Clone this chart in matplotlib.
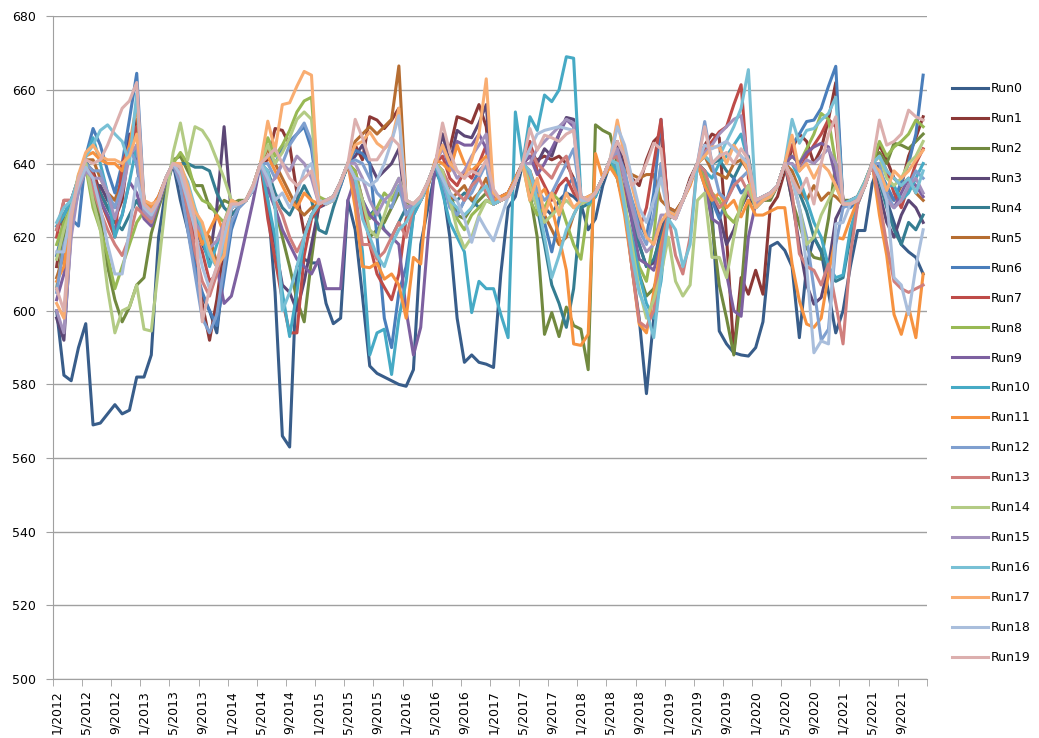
import pandas as pd
import matplotlib
matplotlib.use('Agg')
import matplotlib.pyplot as plt

# monthly categories 1/2012 .. 12/2021
months = pd.date_range('2012-01-01', periods=120, freq='MS')
month_labels = [f'{d.month}/{d.year}' for d in months]

run0 = [600, 582.5, 581, 590, 596.5, 569, 569.5, 572, 574.5, 572, 573, 582,
        582, 588, 620, 633, 640, 630, 622, 612, 604, 600, 594, 612,
        628, 629, 630, 633, 640, 630, 605, 566, 563, 612, 614, 613,
        613, 602, 596.5, 598, 630, 622, 604, 585, 583, 582, 581, 580,
        579.5, 584, 618, 628, 638, 634, 620, 598, 586, 588, 586, 585.5,
        584.6, 610, 628, 631, 640, 635, 630, 628, 626, 630, 632, 631,
        629, 622, 625, 634, 640, 636, 628, 612, 598, 577.5, 598, 618,
        627, 626, 630, 635, 640, 638, 627, 594.5, 591, 588.6, 588, 587.7,
        590, 597, 617.5, 618.6, 616.4, 612, 592.7, 612, 620, 616, 605, 594,
        600, 612, 621.8, 621.8, 634.5, 640, 630, 624, 618, 616, 614.5, 610]
run1 = [612, 626, 630, 635, 640, 638, 632, 628, 625, 630, 645, 652,
        630, 628, 631, 636, 640, 636, 630, 615, 602, 592, 603, 618,
        628, 629, 630, 634, 640, 641, 649.5, 649, 645, 632, 621, 626,
        629, 630, 630, 635, 640, 645, 641, 652.7, 651.8, 649.5, 651.8, 655,
        628, 629, 630, 635, 640, 648, 644, 652.7, 652, 651, 656, 650,
        629, 630, 631, 636, 640, 642, 641, 642, 641, 642, 640, 636,
        630, 630, 632, 636, 640, 645, 640, 636, 634, 641, 646, 648,
        628, 627, 630, 636, 640, 645, 648, 647, 620, 588.8, 609, 604.5,
        611, 604.5, 628, 631, 638, 644, 648, 646, 640, 644, 652, 662,
        629, 629, 630, 634, 640, 645, 641, 636, 634, 642, 647, 652.7]
run2 = [606, 620, 629, 636, 639, 632, 625, 612, 603, 597, 601, 607,
        609, 621, 628, 634, 641, 642, 638, 634, 634, 628, 627, 630,
        629, 630, 630, 634, 640, 636, 628, 620, 612, 603, 597, 614,
        629, 629, 630, 635, 639, 636, 628, 620, 622, 624, 628, 632,
        630, 628, 630, 634, 640, 638, 632, 626, 625, 628, 630, 632,
        629, 630, 631, 635, 640, 632, 620, 593.6, 599.5, 593, 601, 596,
        595, 584, 650.5, 649, 648, 640, 628, 618, 610, 604, 606, 612,
        625, 626, 630, 635, 640, 638, 623.6, 607, 598, 588, 605, 630,
        629, 630, 630, 634, 640, 630, 623.6, 617, 614.5, 614, 625, 640,
        630, 630, 631, 635, 640, 643, 640, 645.5, 645, 644, 646, 648]
run3 = [598, 592, 622, 634, 639, 634, 634, 630, 628, 635, 648, 640,
        626, 624, 629, 635, 640, 637, 630, 622, 618, 614, 628, 650,
        626, 628, 630, 633, 640, 628, 618, 607, 605, 600, 608, 618,
        628, 629, 631, 635, 640, 642, 645, 640, 636, 638, 640, 644,
        626, 628, 630, 635, 640, 648, 640, 649, 647.5, 647, 651, 656,
        630, 631, 632, 636, 640, 645, 640, 644, 642, 648, 652.5, 652,
        630, 629, 632, 636, 641, 646, 638, 626, 618, 612, 613, 622,
        627, 626, 630, 635, 640, 638, 631, 626, 618, 622, 628, 632,
        628, 630, 631, 634, 640, 630, 618, 607, 601.8, 603.6, 612, 625,
        629, 630, 631, 635, 640, 632, 624, 620, 626, 630, 628, 624]
run4 = [622, 626, 630, 636, 641, 636, 632, 628, 624, 622, 626, 630,
        626, 625, 629, 635, 640, 640, 640, 639, 639, 638, 632, 628,
        626, 628, 630, 633, 640, 638, 632, 628, 626, 630, 634, 630,
        622, 621, 628, 634, 640, 636, 630, 626, 628, 622, 620, 624,
        628, 629, 630, 635, 640, 636, 631, 630, 632, 630, 628, 630,
        629, 630, 631, 635, 640, 634, 628, 618, 607, 602, 595.5, 606,
        628, 629, 631, 636, 641, 640, 632, 625, 618, 612, 614, 620,
        627, 626, 630, 635, 640, 642, 640, 641, 638, 636, 640, 642,
        630, 631, 632, 634, 640, 636, 632, 627, 620, 616.4, 610, 608,
        609, 620, 629, 634, 640, 635, 628, 622, 618, 624, 622, 626]
run5 = [609, 615, 627, 634, 641, 641, 636, 632, 630, 636, 644, 650,
        629, 627, 630, 636, 640, 638, 632, 625, 622, 620, 613, 620,
        628, 629, 630, 633, 640, 644, 640, 636, 632, 628, 626, 628,
        629, 630, 631, 635, 640, 646, 648, 650, 648, 650, 652, 666.5,
        630, 629, 631, 635, 640, 636, 630, 632, 634, 630, 632, 636,
        630, 631, 632, 636, 640, 638, 632, 626, 622, 618, 620, 626,
        630, 631, 632, 636, 641, 640, 638, 637, 636, 637, 637, 630,
        628, 627, 630, 635, 640, 642, 638, 637, 636, 640, 641, 638,
        628, 630, 631, 634, 640, 638, 633, 630, 634, 630, 632, 631,
        629, 629, 630, 634, 640, 636, 632, 630, 634, 636, 632, 630]
run6 = [615, 623, 625, 623, 642, 649.5, 645, 638, 632, 640, 652, 664.5,
        630, 626, 630, 636, 640, 635, 625, 612, 605, 600, 596, 609,
        622, 628, 630, 633, 640, 642, 640, 644, 646, 648, 650, 644,
        630, 629, 630, 634, 640, 643.6, 642.7, 640, 620, 598, 590, 605,
        612, 626, 630, 634, 640, 638, 630, 626, 630, 634, 638, 640,
        629, 630, 631, 635, 640, 636, 632, 624, 616, 625, 634, 636,
        630, 630, 632, 636, 641, 642, 636, 630, 624, 620, 632, 652,
        626, 625, 630, 635, 640, 636, 630, 625, 630, 636, 632, 634,
        628, 630, 631, 634, 640, 645, 648, 651.4, 651.8, 655, 661, 666.4,
        629, 628, 630, 634, 640, 638, 634, 630, 635, 640, 648, 664]
run7 = [620, 630, 630, 636, 640, 637, 630, 625, 620, 640, 645, 650,
        628, 625, 630, 636, 640, 636, 628, 620, 616, 608, 610, 620,
        630, 629, 630, 634, 640, 625, 614, 603, 594, 594, 615, 625,
        628, 630, 630, 635, 640, 638, 630, 618, 610, 606.4, 603, 610,
        625, 629, 630, 635, 640, 642, 636, 634, 638, 636, 640, 645,
        629, 630, 631, 635, 640, 646, 638, 634, 630, 634, 636, 632,
        630, 630, 632, 636, 641, 638, 632, 628, 622, 628, 640, 652,
        627, 626, 630, 635, 640, 644, 646, 648.6, 650, 656, 661.4, 636,
        630, 631, 632, 634, 640, 645, 638, 642, 645, 648, 652, 650,
        630, 629, 630, 634, 640, 642, 638, 632, 628, 634, 640, 644]
run8 = [618, 624, 628, 636, 639, 628, 622, 615, 606, 612, 618, 624,
        627, 624, 629, 635, 640, 643, 640, 633, 630, 629, 626, 624,
        630, 629, 630, 634, 640, 647, 642, 645, 649, 654, 657, 658,
        631, 630, 631, 635, 640, 638, 630, 625, 628, 632, 630, 634,
        628, 629, 630, 635, 640, 636, 630, 625, 622, 626, 628, 630,
        629, 630, 631, 635, 640, 630, 626, 628, 632, 630, 624, 618,
        614, 628, 632, 636, 641, 636, 628, 620, 612, 608, 620, 640,
        627, 626, 630, 635, 640, 636, 632, 630, 626, 624, 628, 634,
        628, 630, 631, 634, 640, 642, 640, 644, 648, 653.6, 652, 640,
        630, 629, 631, 635, 640, 646, 642, 644.5, 646, 648, 651.8, 650]
run9 = [603, 610, 624, 633, 638, 635, 630, 626, 622, 626, 635, 632,
        625, 623, 629, 635, 640, 634, 628, 624, 620, 616, 612, 602,
        604, 612, 621, 630, 640, 633, 628, 622, 618, 614, 612, 610,
        614, 606, 606, 606, 630, 636, 630, 626, 624, 622, 620, 618,
        600, 588, 595.5, 620, 640, 645, 638, 646, 645, 645, 648, 644,
        630, 631, 632, 636, 640, 642, 637, 640, 644, 648, 652, 650,
        631, 630, 632, 636, 641, 644, 636, 624, 614, 612.7, 611, 618,
        627, 626, 630, 635, 640, 634, 625, 623.6, 610, 600, 598.5, 620,
        629, 630, 631, 634, 640, 642, 640, 643, 644.5, 645.5, 644.5, 636,
        630, 629, 631, 634, 640, 638, 630, 628, 632, 636, 634, 631]
run10 = [623, 626, 630, 635, 642, 647, 640, 632, 620, 626, 635, 645,
         627, 624, 630, 636, 640, 638, 632, 626, 620, 612, 618, 623,
         628, 629, 630, 634, 640, 630, 620, 605, 593, 605, 620, 626,
         629, 630, 630, 635, 640, 632, 616, 588, 594, 595, 582.7, 598,
         608, 626, 630, 635, 640, 632, 624, 620, 616, 599.5, 608, 606,
         606, 599, 592.7, 654, 640, 652.7, 649, 658.6, 656.8, 660, 669, 668.6,
         631, 629, 631, 636, 641, 638, 628, 620, 610, 602, 598, 608,
         627, 626, 630, 635, 640, 638, 636, 640, 642, 645, 648, 640,
         629, 631, 632, 634, 640, 640, 636, 630, 624, 620, 612, 609,
         609.7, 622, 629, 634, 640, 636, 634, 634, 630, 632, 636, 640]
run11 = [608, 612, 626, 636, 642, 643, 641, 640, 640, 638, 645, 656,
         630, 628, 631, 636, 640, 637, 630, 624, 618, 622, 626, 621,
         628, 629, 630, 634, 640, 642, 638, 634, 630, 628, 632, 630,
         629, 630, 631, 635, 640, 628, 612, 611.7, 613, 608.6, 610, 607,
         598, 614.5, 612.7, 634, 641, 640, 638, 645, 640, 638, 640, 642,
         630, 631, 632, 636, 640, 636, 631, 633, 628, 620, 611, 591,
         590.6, 593.6, 642.7, 636, 639, 636, 626, 612, 596.4, 594, 605, 618,
         626, 626, 630, 634, 640, 634, 630, 632, 628, 630, 625.5, 630,
         626, 626, 627, 628, 628, 612.7, 602.7, 596.4, 595.5, 598, 610, 620,
         619.5, 625, 630, 634, 640, 626, 615, 599, 593.6, 601, 592.7, 610]
run12 = [605, 618, 624, 632, 640, 638, 638, 632, 628, 634, 644, 640,
         628, 625, 630, 636, 640, 634, 622, 610, 598, 594, 599, 612,
         624, 628, 630, 633, 640, 640, 636, 640, 645, 648, 651, 646,
         630, 629, 631, 635, 640, 641, 640, 636, 632, 630, 628, 634,
         626, 629, 630, 635, 640, 635, 628, 626, 630, 632, 636, 640,
         629, 630, 631, 635, 640, 637, 633, 630, 632, 636, 640, 644,
         630, 630, 632, 636, 641, 643, 638, 630, 622, 618, 626, 640,
         626, 625, 630, 635, 640, 651.4, 640, 632, 630, 634, 636, 638,
         628, 630, 631, 634, 640, 636, 628, 620, 606, 592, 595, 618,
         628, 629, 630, 634, 640, 640, 632, 628, 630, 634, 638, 636]
run13 = [622, 630, 630, 635, 639, 633, 627, 622, 618, 615, 620, 628,
         626, 624, 630, 636, 640, 638, 627, 616, 608, 604, 610, 617,
         628, 629, 630, 634, 640, 636, 630, 626, 620, 616, 620, 626,
         629, 630, 631, 635, 640, 632, 618, 618, 614, 616, 620, 624,
         620, 628, 630, 635, 640, 638, 634, 632, 630, 634, 636, 632,
         629, 630, 631, 635, 640, 644, 640, 638, 636, 640, 642, 634,
         629, 630, 632, 636, 641, 642, 630, 612, 597, 595.5, 600, 616,
         626, 615, 610, 620, 640, 638, 632, 628, 630, 634, 636, 632,
         629, 630, 631, 634, 640, 632, 615.5, 612, 611, 607, 612.7, 602,
         591, 615, 629, 634, 640, 630, 618, 608, 606, 605, 606, 607]
run14 = [614, 622, 628, 637, 640, 630, 622, 606, 594, 600, 601, 607,
         595, 594.5, 612, 630, 643, 651, 641, 650, 649, 646, 641, 636,
         630, 629, 630, 634, 640, 645, 640, 643, 647, 652, 654, 652,
         630, 629, 630, 635, 640, 636, 630, 622, 620, 626, 632, 636,
         630, 629, 630, 635, 640, 638, 630, 622, 617, 620, 626, 630,
         629, 630, 631, 635, 640, 634, 628, 624, 626, 628, 630, 628,
         629, 630, 632, 636, 641, 640, 630, 618, 606, 598, 603, 610,
         620, 608, 604, 607, 630, 632, 614.5, 614.5, 609, 620, 630, 634,
         628, 630, 631, 634, 640, 636, 628, 618, 620, 626, 630, 634,
         629, 629, 630, 634, 640, 642, 636, 634, 636, 640, 642, 646]
run15 = [600, 594, 620, 633, 638, 636, 636, 632, 625, 632, 642, 645,
         627, 625, 630, 636, 640, 636, 630, 624, 621, 617, 619, 624,
         628, 629, 630, 634, 640, 634, 636, 640, 638, 642, 640, 636,
         629, 630, 631, 635, 640, 640, 636, 630, 626, 630, 632, 636,
         628, 629, 630, 635, 640, 644, 640, 636, 638, 642, 645, 648,
         629, 630, 631, 635, 640, 640, 644, 646, 648, 650, 652, 651,
         630, 630, 632, 636, 641, 644, 636, 628, 620, 616, 618, 626,
         626, 625, 630, 635, 640, 643, 645, 648, 650, 652, 653, 640,
         629, 630, 631, 634, 640, 640, 638, 641, 640, 642, 644, 640,
         629, 629, 630, 634, 640, 636, 630, 628, 630, 634, 636, 632]
run16 = [624, 628, 630, 636, 642, 645, 649, 650.5, 648, 646, 640, 659,
         629, 627, 630, 636, 640, 639, 635, 628, 622, 615, 612, 618,
         628, 629, 630, 634, 640, 638, 628, 600, 605, 612, 620, 626,
         629, 630, 631, 635, 640, 636, 625, 620, 615, 612, 618, 622,
         624, 628, 630, 635, 640, 636, 630, 628, 626, 628, 632, 634,
         629, 630, 631, 635, 640, 638, 630, 620, 609, 615, 622, 626,
         630, 630, 632, 636, 641, 640, 628, 615, 605, 600, 592.7, 610,
         625, 622, 612, 618, 640, 642, 640, 642, 646, 650, 655, 665.5,
         630, 631, 632, 634, 640, 652, 645.5, 649, 649.5, 651.8, 653.6, 658,
         629, 630, 631, 635, 640, 642, 638, 636, 634, 636, 632, 638]
run17 = [602, 598, 625, 637, 643, 645, 642, 641, 641, 640, 642, 648,
         630, 629, 630, 636, 640, 640, 634, 627, 624, 617, 612, 615,
         630, 629, 630, 634, 640, 651.5, 643.6, 656, 656.5, 661, 665, 664,
         630, 629, 630, 635, 640, 645, 646, 648.6, 645.5, 644, 646, 655,
         630, 629, 631, 635, 640, 645, 640, 638, 636, 641, 648, 663,
         632, 630, 631, 635, 640, 630, 636, 626, 632, 626, 632, 628,
         630, 631, 632, 636, 641, 651.8, 642, 634, 626, 620, 618, 624,
         627, 626, 630, 635, 640, 642, 644.5, 644.5, 640, 645, 642, 638,
         628, 630, 631, 634, 640, 647.7, 638, 640, 636, 640, 638, 634,
         629, 629, 630, 634, 640, 638, 632.7, 638, 636, 638, 641, 643.6]
run18 = [616, 616, 628, 634, 639, 636, 628, 618, 610, 610, 622, 636,
         628, 626, 630, 636, 640, 637, 630, 622, 612, 606, 612, 620,
         628, 629, 630, 633, 640, 636, 630, 632, 628, 632, 638, 640,
         630, 629, 630, 635, 640, 636, 635.5, 634, 635.5, 640, 646, 653,
         630, 629, 631, 635, 640, 636, 632, 630, 625, 618.6, 625.5, 622,
         619, 625, 631, 635, 640, 644, 648, 649, 649.5, 650, 649.5, 649,
         630, 630, 632, 636, 641, 650, 645, 636, 628, 624, 630, 636,
         626, 625, 630, 635, 640, 645, 644, 645, 646, 644, 642, 640,
         630, 631, 632, 634, 640, 636, 628, 612, 588.6, 591.8, 591, 623.6,
         624, 629, 630, 634, 640, 636, 630, 609, 607, 599, 612, 622]
run19 = [606, 600, 626, 636, 641, 640, 641, 645, 650, 655, 657, 662,
         629, 627, 630, 636, 640, 639, 632, 625, 597, 606, 612, 624,
         629, 629, 630, 634, 640, 642, 644, 640, 636, 634, 636, 638,
         629, 630, 631, 635, 640, 652, 647, 641, 641, 644, 647, 645,
         630, 629, 631, 635, 640, 651, 643, 638, 636, 638, 637, 641,
         633, 630, 631, 635, 640, 649.5, 643.6, 647.7, 647, 646, 648, 649,
         631, 630, 632, 636, 641, 646, 642, 634, 636, 640, 645.5, 644,
         626, 625, 630, 635, 640, 650, 640, 642, 643, 640, 644, 641,
         630, 631, 632, 634, 640, 636, 632, 636, 629, 640, 648, 652.7,
         629, 629, 630, 634, 640, 651.8, 645, 646, 648, 654.5, 652.7, 651.8]

runs = [run0, run1, run2, run3, run4, run5, run6, run7, run8, run9,
        run10, run11, run12, run13, run14, run15, run16, run17, run18, run19]
names = ['Run%d' % k for k in range(len(runs))]
colors = ['#385D8A', '#8C3836', '#71893F', '#5C4776', '#357D91', '#B66D31',
          '#4A7EBB', '#BE4B48', '#98B954', '#7D60A0', '#46AAC5', '#F69240',
          '#7F9FCF', '#D07F7D', '#B3CB84', '#A492BD', '#78C0D5', '#F9AD71',
          '#A9BEDC', '#DCAFAE']

df = pd.DataFrame(dict(zip(names, runs)), index=month_labels)

fig = plt.figure(figsize=(10.39, 7.38), dpi=100)
ax = fig.add_axes([0.051, 0.080, 0.841, 0.898])

x = range(len(df))
for name, c in zip(names, colors):
    ax.plot(x, df[name], color=c, lw=2.2, label=name, solid_joinstyle='round')

grid_c = '#A0A0A0'
ax.set_ylim(500, 680)
ax.set_yticks(range(500, 681, 20))
ax.set_xlim(-0.5, len(df) - 0.5)
ax.set_xticks(range(0, len(df), 4))
ax.set_xticklabels(month_labels[::4], rotation=90)
ax.set_xticks([k - 0.5 for k in range(0, len(df) + 1, 4)], minor=True)
ax.tick_params(axis='x', which='major', length=0, pad=8, labelsize=9)
ax.tick_params(axis='x', which='minor', length=5, color=grid_c)
ax.tick_params(axis='y', length=5, color=grid_c, labelsize=9, pad=7)
ax.grid(axis='y', color=grid_c, lw=1)
ax.set_axisbelow(True)
for s in ['top', 'right']:
    ax.spines[s].set_visible(False)
for s in ['left', 'bottom']:
    ax.spines[s].set_color(grid_c)

fig.legend(loc='center left', bbox_to_anchor=(0.916, 0.4946), frameon=False,
           fontsize=9, labelspacing=1.355, handlelength=2.88, handletextpad=0.24,
           borderaxespad=0, borderpad=0)

fig.savefig('out.png', dpi=100)
